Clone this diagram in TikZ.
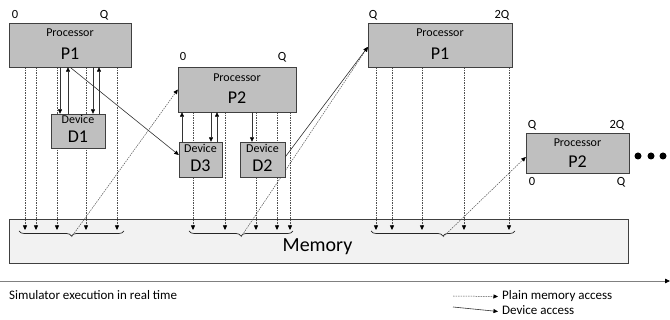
\documentclass[tikz,border=0pt]{standalone}
\usepackage{fontspec}
\setmainfont{Carlito}
\usetikzlibrary{arrows.meta,decorations.pathreplacing}
\definecolor{boxfill}{HTML}{BFBFBF}
\definecolor{boxline}{HTML}{404040}
\definecolor{memfill}{HTML}{F2F2F2}
\definecolor{dashcol}{HTML}{505050}
\definecolor{timecol}{HTML}{808080}
\tikzset{
 box/.style={draw=boxline, fill=boxfill, line width=0.9pt, inner sep=0pt, rectangle},
 membox/.style={draw=boxline, fill=memfill, line width=0.9pt, inner sep=0pt, rectangle},
 plain/.style={-{Triangle[length=4.5pt,width=4pt,color=black]}, draw=dashcol, line width=0.5pt, dash pattern=on 1.5pt off 1pt},
 devacc/.style={-{Triangle[length=4.5pt,width=4pt,color=black]}, draw=black!80, line width=0.6pt},
 smalltxt/.style={font=\fontsize{12}{14}\selectfont, anchor=base, inner sep=0pt},
 bigtxt/.style={font=\fontsize{18}{20}\selectfont, anchor=base, inner sep=0pt},
 memtxt/.style={font=\fontsize{20}{22}\selectfont, anchor=base, inner sep=0pt},
 ticktxt/.style={font=\fontsize{12.5}{14}\selectfont, anchor=base, inner sep=0pt},
 captxt/.style={font=\fontsize{13}{15}\selectfont, anchor=base west, inner sep=0pt},
 brc/.style={decorate, decoration={brace, mirror, amplitude=5pt}, draw=black!85, line width=0.7pt},
 dotnode/.style={circle, fill=black, minimum size=7pt, inner sep=0pt},
}
\begin{document}
\begin{tikzpicture}[x=1pt,y=-1pt]
\useasboundingbox (0,0) rectangle (670,320);

% memory
\node[membox, minimum width=619pt, minimum height=44pt] (M) at (318.5,241) {};
\node[memtxt] (Mtxt) at (317.5,252) {Memory};

% boxes (positions)
\path (70,45) coordinate (cP1a) (78,131) coordinate (cD1) (237,89.5) coordinate (cP2a)
      (200.5,159.5) coordinate (cD3) (262.5,159.5) coordinate (cD2)
      (440,45) coordinate (cP1b) (577.5,153) coordinate (cP2b);
\path (cP1a) node[minimum width=122pt, minimum height=44pt, inner sep=0pt] (P1a) {};
\path (cD1) node[minimum width=54pt, minimum height=34pt, inner sep=0pt] (D1) {};
\path (cP2a) node[minimum width=118pt, minimum height=45pt, inner sep=0pt] (P2a) {};
\path (cD3) node[minimum width=43pt, minimum height=35pt, inner sep=0pt] (D3) {};
\path (cD2) node[minimum width=45pt, minimum height=35pt, inner sep=0pt] (D2) {};
\path (cP1b) node[minimum width=144pt, minimum height=44pt, inner sep=0pt] (P1b) {};
\path (cP2b) node[minimum width=103pt, minimum height=40pt, inner sep=0pt] (P2b) {};

% plain memory accesses (drops)
\foreach \x in {25,36,57,86,117} \draw[plain] (\x,0 |- P1a.south) -- (\x,230);
\foreach \x in {193,225,256,277,290} \draw[plain] (\x,0 |- P2a.south) -- (\x,230);
\foreach \x in {376,392,422,464,509} \draw[plain] (\x,0 |- P1b.south) -- (\x,230);

% braces
\coordinate (b1l) at (19,231); \coordinate (b1r) at (124,231);
\coordinate (b2l) at (189,231); \coordinate (b2r) at (293,231);
\coordinate (b3l) at (371,231); \coordinate (b3r) at (515,231);
\draw[brc] (b1l) -- (b1r);
\draw[brc] (b2l) -- (b2r);
\draw[brc] (b3l) -- (b3r);
\coordinate (b1tip) at (71.5,237);
\coordinate (b2tip) at (241,237);
\coordinate (b3tip) at (443,237);

% returns
\draw[plain] (b1tip) -- (P2a.west);
\draw[plain] (b2tip) -- ([yshift=-2pt]P1b.west);
\draw[plain] (b3tip) -- ([yshift=-4pt]P2b.west);

% drawn boxes
\node[box, minimum width=122pt, minimum height=44pt] (P1ab) at (cP1a) {};
\node[box, minimum width=54pt, minimum height=34pt] (D1b) at (cD1) {};
\node[box, minimum width=118pt, minimum height=45pt] (P2ab) at (cP2a) {};
\node[box, minimum width=43pt, minimum height=35pt] (D3b) at (cD3) {};
\node[box, minimum width=45pt, minimum height=35pt] (D2b) at (cD2) {};
\node[box, minimum width=144pt, minimum height=44pt] (P1bb) at (cP1b) {};
\node[box, minimum width=103pt, minimum height=40pt] (P2bb) at (cP2b) {};

% device accesses
\draw[devacc] (60,0 |- P1a.south) -- (60,0 |- D1.north);
\draw[devacc] (68,0 |- D1.north) -- (68,0 |- P1a.south);
\draw[devacc] (93,0 |- P1a.south) -- (93,0 |- D1.north);
\draw[devacc] (99,0 |- D1.north) -- (99,0 |- P1a.south);
\draw[devacc] (70,0 |- P1a.south) -- ([yshift=4.5pt]D3.west);
\draw[devacc] (182,0 |- D3.north) -- (182,0 |- P2a.south);
\draw[devacc] (211,0 |- P2a.south) -- (211,0 |- D3.north);
\draw[devacc] (217,0 |- D3.north) -- (217,0 |- P2a.south);
\draw[devacc] (252,0 |- P2a.south) -- (252,0 |- D2.north);
\draw[devacc] ([yshift=2.5pt]D2.east) -- ([yshift=-2pt]P1b.west);

% box texts
\node[smalltxt] (t1) at (70,37) {Processor};
\node[bigtxt] (t2) at (70,60) {P1};
\node[smalltxt] (t3) at (78,124) {Device};
\node[bigtxt] (t4) at (78,143) {D1};
\node[smalltxt] (t5) at (237,82) {Processor};
\node[bigtxt] (t6) at (237,104) {P2};
\node[smalltxt] (t7) at (200.5,153) {Device};
\node[bigtxt] (t8) at (200.5,172) {D3};
\node[smalltxt] (t9) at (262.5,153) {Device};
\node[bigtxt] (t10) at (262.5,172) {D2};
\node[smalltxt] (t11) at (440,37) {Processor};
\node[bigtxt] (t12) at (440,60) {P1};
\node[smalltxt] (t13) at (577.5,147) {Processor};
\node[bigtxt] (t14) at (577.5,168) {P2};

% tick labels
\node[ticktxt] (k1) at (15,19) {0};
\node[ticktxt] (k2) at (104,19) {Q};
\node[ticktxt] (k3) at (183,61) {0};
\node[ticktxt] (k4) at (282,61) {Q};
\node[ticktxt] (k5) at (373,19) {Q};
\node[ticktxt] (k6) at (502,19) {2Q};
\node[ticktxt] (k7) at (532,129) {Q};
\node[ticktxt] (k8) at (617,129) {2Q};
\node[ticktxt] (k9) at (532,186) {0};
\node[ticktxt] (k10) at (621,186) {Q};

% dots
\node[dotnode] (dot1) at (638,156) {};
\node[dotnode] (dot2) at (651,156) {};
\node[dotnode] (dot3) at (663,156) {};

% timeline
\coordinate (tl0) at (0,281);
\coordinate (tl1) at (670,281);
\draw[draw=timecol, line width=0.8pt, -{Triangle[length=5pt,width=4.5pt,color=black]}] (tl0) -- (tl1);
\node[captxt] (sim) at (9,300) {Simulator execution in real time};

% legend
\node[captxt] (lgp) at (502,300) {Plain memory access};
\node[captxt] (lgd) at (502,315) {Device access};
\coordinate (lgps) at (453,296);
\coordinate (lgds) at (453,307);
\draw[plain] (lgps) -- ([xshift=-4pt,yshift=3.5pt]lgp.base west);
\draw[devacc] (lgds) -- ([xshift=-4pt,yshift=3.5pt]lgd.base west);
\end{tikzpicture}
\end{document}
